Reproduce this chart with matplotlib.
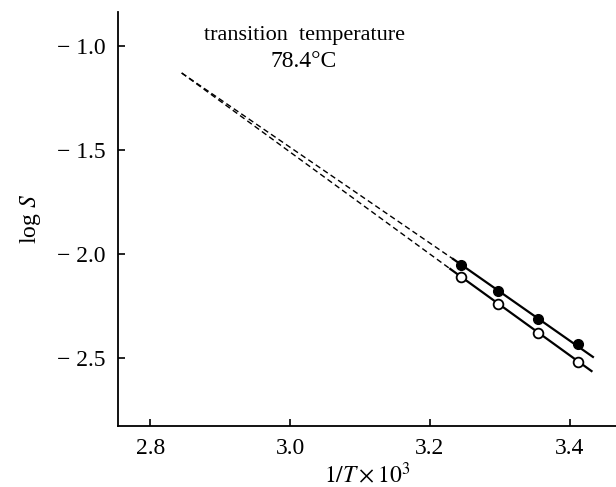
import numpy as np
import matplotlib
matplotlib.use('Agg')
import matplotlib.pyplot as plt

plt.rcParams['font.family'] = ['Liberation Serif', 'DejaVu Serif']
plt.rcParams['mathtext.fontset'] = 'stix'

# data
inv_T = [3.244, 3.297, 3.354, 3.411]
logS_filled = [-2.053, -2.179, -2.314, -2.433]
logS_open = [-2.109, -2.240, -2.380, -2.518]

# fitted lines: solid over the data range, dashed extrapolation to the transition
solid_filled_x = [3.233, 3.433]
solid_filled_y = [-2.024, -2.495]
solid_open_x = [3.229, 3.431]
solid_open_y = [-2.072, -2.563]
dash_filled_x = [2.845, 3.233]
dash_filled_y = [-1.13, -2.024]
dash_open_x = [2.845, 3.229]
dash_open_y = [-1.13, -2.072]

fig = plt.figure(figsize=(6.16, 4.87), dpi=100)
ax = fig.add_axes([0.1916, 0.1253, 0.8084, 0.8500])

ax.plot(solid_filled_x, solid_filled_y, color='black', lw=1.6)
ax.plot(solid_open_x, solid_open_y, color='black', lw=1.6)
ax.plot(dash_filled_x, dash_filled_y, color='black', lw=1.0, ls=(0, (4, 2.5)))
ax.plot(dash_open_x, dash_open_y, color='black', lw=1.0, ls=(0, (4, 2.5)))

ax.plot(inv_T, logS_filled, 'o', color='black', ms=7, zorder=3)
ax.plot(inv_T, logS_open, 'o', mfc='white', mec='black', mew=1.3, ms=7, zorder=3)

ax.set_xlim(2.754, 3.466)
ax.set_ylim(-2.827, -0.837)
ax.set_xticks([2.8, 3.0, 3.2, 3.4])
ax.set_yticks([-1.0, -1.5, -2.0, -2.5])
ax.set_xticklabels(['2.8', '3.0', '3.2', '3.4'])
ax.set_yticklabels(['\u2212 1.0', '\u2212 1.5', '\u2212 2.0', '\u2212 2.5'])

for s in ['top', 'right']:
    ax.spines[s].set_visible(False)
for s in ['left', 'bottom']:
    ax.spines[s].set_linewidth(1.3)
ax.tick_params(direction='in', length=5, width=1.2, labelsize=17)
ax.tick_params(axis='x', pad=9)
ax.tick_params(axis='y', pad=9)

ax.set_xlabel(r'$1/T\times10^3$', fontsize=17, labelpad=2)
ax.set_ylabel(r'log $S$', fontsize=17, labelpad=10)

ax.text(3.02, -0.95, 'transition\u2002temperature', ha='center', va='center', fontsize=16)
ax.text(3.02, -1.075, '78.4\u00b0C', ha='center', va='center', fontsize=17)

fig.savefig('out.png', dpi=100)
